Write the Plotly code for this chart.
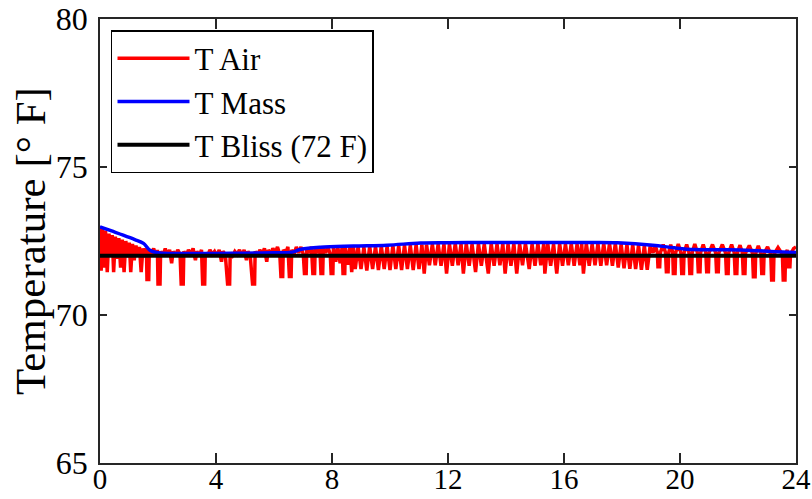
import plotly.graph_objects as go

# ---- data ----
mass_hours = [0.0, 0.4, 0.8, 1.2, 1.5, 1.72, 2.0, 2.5, 3.0, 4.0, 5.0, 6.0, 6.6, 6.93, 7.6, 8.74,
              9.9, 11.05, 12.0, 13.0, 14.0, 15.0, 16.0, 17.0, 17.85, 19.06, 19.8, 20.5, 22.1,
              23.3, 24.0]
mass_temp = [72.98, 72.84, 72.70, 72.55, 72.42, 72.19, 72.10, 72.08, 72.08, 72.08, 72.09, 72.10,
             72.12, 72.22, 72.29, 72.33, 72.36, 72.43, 72.44, 72.45, 72.45, 72.45, 72.45, 72.45,
             72.44, 72.36, 72.27, 72.21, 72.20, 72.14, 72.11]

bliss_hours = [0, 24]
bliss_temp = [72, 72]

air_samples = [
    (0.00, 73.00), (0.04, 71.50), (0.09, 72.90), (0.14, 71.60), (0.19, 72.85), (0.25, 71.45),
    (0.31, 72.75), (0.37, 72.00), (0.42, 72.70), (0.47, 71.45), (0.53, 72.65), (0.59, 71.90),
    (0.65, 72.60), (0.71, 71.60), (0.77, 72.55), (0.83, 71.45), (0.89, 72.50), (0.95, 71.95),
    (1.01, 72.45), (1.06, 71.45), (1.12, 72.40), (1.18, 71.85), (1.24, 72.35), (1.30, 72.00),
    (1.36, 72.30), (1.42, 71.45), (1.48, 72.25), (1.54, 71.95), (1.60, 72.25), (1.62, 71.20),
    (1.68, 71.20), (1.70, 72.20), (1.78, 72.05), (1.85, 72.25), (1.92, 72.00), (1.98, 72.20),
    (2.00, 71.05), (2.07, 71.05), (2.09, 72.15), (2.17, 72.00), (2.25, 72.25), (2.32, 72.00),
    (2.40, 72.20), (2.47, 71.75), (2.52, 72.15), (2.60, 72.00), (2.68, 72.20), (2.76, 72.05),
    (2.80, 71.05), (2.87, 71.05), (2.89, 72.15), (2.97, 72.00), (3.05, 72.20), (3.13, 72.05),
    (3.21, 72.25), (3.29, 71.85), (3.34, 72.15), (3.42, 72.00), (3.50, 72.20), (3.54, 71.05),
    (3.61, 71.05), (3.63, 72.10), (3.71, 72.00), (3.79, 72.20), (3.87, 72.05), (3.95, 72.15),
    (4.03, 72.00), (4.11, 72.20), (4.19, 71.80), (4.24, 72.15), (4.32, 72.05), (4.40, 71.05),
    (4.47, 71.05), (4.49, 72.10), (4.57, 72.00), (4.65, 72.15), (4.73, 72.05), (4.81, 72.20),
    (4.89, 72.00), (4.97, 72.20), (5.05, 71.85), (5.10, 72.15), (5.18, 72.00), (5.26, 71.05),
    (5.33, 71.05), (5.35, 72.15), (5.43, 72.00), (5.51, 72.20), (5.59, 72.05), (5.67, 72.25),
    (5.75, 71.80), (5.80, 72.20), (5.88, 72.05), (5.96, 72.25), (6.04, 72.10), (6.12, 72.30),
    (6.20, 72.05), (6.24, 71.30), (6.30, 71.30), (6.32, 72.20), (6.40, 72.10), (6.48, 72.30),
    (6.53, 71.30), (6.59, 71.30), (6.61, 72.20), (6.69, 72.05), (6.77, 72.30), (6.85, 72.10),
    (6.93, 72.30), (7.01, 72.05), (7.05, 71.40), (7.11, 71.40), (7.13, 72.25), (7.21, 72.10),
    (7.29, 72.30), (7.34, 71.40), (7.40, 71.40), (7.42, 72.25), (7.50, 72.10), (7.58, 72.30),
    (7.62, 71.40), (7.68, 71.40), (7.70, 72.25), (7.78, 72.10), (7.86, 72.30), (7.94, 72.05),
    (7.97, 71.40), (8.03, 71.40), (8.05, 72.30), (8.13, 71.80), (8.20, 72.30), (8.28, 71.75),
    (8.35, 72.30), (8.38, 71.40), (8.44, 71.40), (8.46, 72.30), (8.54, 71.70), (8.62, 72.30),
    (8.68, 71.45), (8.74, 72.30), (8.80, 71.55), (8.90, 72.32), (9.00, 71.55), (9.10, 72.30),
    (9.20, 71.50), (9.30, 72.33), (9.40, 71.55), (9.50, 72.32), (9.60, 71.52), (9.70, 72.34),
    (9.80, 71.55), (9.90, 72.33), (10.00, 71.52), (10.10, 72.36), (10.20, 71.55), (10.30, 72.35),
    (10.40, 71.52), (10.50, 72.37), (10.60, 71.55), (10.70, 72.36), (10.80, 71.52), (10.90, 72.38),
    (11.00, 71.55), (11.10, 72.38), (11.18, 71.40), (11.26, 72.38), (11.36, 71.68), (11.46, 72.40),
    (11.56, 71.68), (11.66, 72.40), (11.76, 71.66), (11.86, 72.40), (11.95, 71.40), (12.05, 72.40),
    (12.15, 71.66), (12.25, 72.42), (12.35, 71.68), (12.45, 72.40), (12.53, 71.40), (12.63, 72.42),
    (12.73, 71.66), (12.83, 72.40), (12.95, 71.45), (13.05, 72.42), (13.15, 71.66), (13.25, 72.40),
    (13.39, 71.40), (13.49, 72.42), (13.59, 71.66), (13.69, 72.40), (13.79, 71.68), (13.89, 72.42),
    (13.97, 71.40), (14.07, 72.40), (14.17, 71.66), (14.27, 72.42), (14.37, 71.40), (14.47, 72.40),
    (14.57, 71.68), (14.67, 72.42), (14.80, 71.55), (14.90, 72.40), (15.00, 71.66), (15.10, 72.42),
    (15.20, 71.68), (15.30, 72.40), (15.34, 71.40), (15.44, 72.42), (15.54, 71.66), (15.64, 72.40),
    (15.75, 71.40), (15.85, 72.42), (15.95, 71.66), (16.05, 72.40), (16.15, 71.68), (16.25, 72.42),
    (16.35, 71.66), (16.45, 72.40), (16.55, 71.68), (16.61, 72.40), (16.67, 71.40), (16.77, 72.42),
    (16.87, 71.66), (16.97, 72.40), (17.07, 71.68), (17.17, 72.42), (17.27, 71.66), (17.37, 72.42),
    (17.47, 71.68), (17.57, 72.42), (17.67, 71.66), (17.77, 72.42), (17.87, 71.60), (17.97, 72.40),
    (18.07, 71.58), (18.17, 72.38), (18.27, 71.56), (18.37, 72.38), (18.47, 71.55), (18.57, 72.36),
    (18.67, 71.53), (18.77, 72.35), (18.87, 71.53), (18.97, 72.33), (19.07, 72.10), (19.15, 72.35),
    (19.22, 72.10), (19.24, 71.63), (19.30, 71.63), (19.32, 72.10), (19.42, 72.38), (19.50, 72.10),
    (19.53, 71.46), (19.59, 71.46), (19.61, 72.10), (19.68, 72.38), (19.75, 72.10), (19.77, 71.40),
    (19.83, 71.40), (19.85, 72.10), (19.94, 72.40), (20.03, 72.10), (20.06, 71.40), (20.12, 71.40),
    (20.14, 72.10), (20.23, 72.38), (20.31, 72.10), (20.34, 71.40), (20.40, 71.40), (20.42, 72.10),
    (20.51, 72.40), (20.60, 72.10), (20.63, 71.46), (20.69, 71.46), (20.71, 72.10), (20.80, 72.38),
    (20.89, 72.10), (20.92, 71.46), (20.98, 71.46), (21.00, 72.10), (21.12, 72.38), (21.23, 72.10),
    (21.26, 71.46), (21.32, 71.46), (21.34, 72.10), (21.46, 72.38), (21.57, 72.10), (21.60, 71.40),
    (21.66, 71.40), (21.68, 72.10), (21.78, 72.38), (21.87, 72.10), (21.90, 71.40), (21.96, 71.40),
    (21.98, 72.10), (22.07, 72.36), (22.15, 72.10), (22.18, 71.40), (22.24, 71.40), (22.26, 72.10),
    (22.39, 72.35), (22.50, 72.08), (22.53, 71.29), (22.59, 71.29), (22.61, 72.08), (22.70, 72.34),
    (22.79, 72.08), (22.82, 71.40), (22.88, 71.40), (22.90, 72.08), (23.02, 72.30), (23.13, 72.05),
    (23.16, 71.18), (23.22, 71.18), (23.24, 72.05), (23.38, 72.28), (23.53, 72.05), (23.56, 71.18),
    (23.62, 71.18), (23.64, 72.05), (23.70, 72.20), (23.73, 71.63), (23.79, 71.63), (23.81, 72.05),
    (23.92, 72.25), (24.00, 72.30),
]
air_hours = [p[0] for p in air_samples]
air_temp = [p[1] for p in air_samples]

x_ticks = [0, 4, 8, 12, 16, 20, 24]
y_ticks = [65, 70, 75, 80]
y_title = "Temperature [° F]"
names = ["T Air", "T Mass", "T Bliss (72 F)"]

FONT = "Liberation Serif, Times New Roman, serif"
AX = "rgb(38,38,38)"

fig = go.Figure()
fig.add_trace(go.Scatter(x=air_hours, y=air_temp, mode="lines", name=names[0],
                         line=dict(color="rgb(255,0,0)", width=3.5, simplify=False)))
fig.add_trace(go.Scatter(x=mass_hours, y=mass_temp, mode="lines", name=names[1],
                         line=dict(color="rgb(0,0,255)", width=3.5, shape="spline")))
fig.add_trace(go.Scatter(x=bliss_hours, y=bliss_temp, mode="lines", name=names[2],
                         line=dict(color="black", width=4)))

fig.update_layout(
    width=812, height=499,
    margin=dict(l=100, r=16, t=19, b=36),
    paper_bgcolor="white", plot_bgcolor="white",
    font=dict(family=FONT, size=32, color="black"),
    showlegend=True,
    legend=dict(x=0.0158, y=0.975, xanchor="left", yanchor="top",
                bgcolor="white", bordercolor="black", borderwidth=1.5,
                font=dict(family=FONT, size=31, color="black"),
                itemwidth=72, tracegroupgap=0),
    annotations=[dict(text=y_title, xref="paper", yref="paper", x=-0.1006, y=0.5,
                      xanchor="center", yanchor="middle", textangle=-90, showarrow=False,
                      font=dict(family=FONT, size=43, color="black"))],
)
fig.update_xaxes(range=[0, 24], tickvals=x_ticks, ticks="inside", ticklen=10, tickwidth=1.5,
                 tickcolor=AX, showline=True, linecolor=AX, linewidth=1.5, mirror="ticks",
                 showgrid=False, zeroline=False, ticklabelstandoff=-11, automargin=False,
                 tickfont=dict(family=FONT, size=29, color="black"))
fig.update_yaxes(range=[65, 80], tickvals=y_ticks, ticks="inside", ticklen=7, tickwidth=1.5,
                 tickcolor=AX, showline=True, linecolor=AX, linewidth=1.5, mirror="ticks",
                 showgrid=False, zeroline=False, ticklabelstandoff=4, automargin=False,
                 tickfont=dict(family=FONT, size=32, color="black"))

fig.write_html("out.html")
